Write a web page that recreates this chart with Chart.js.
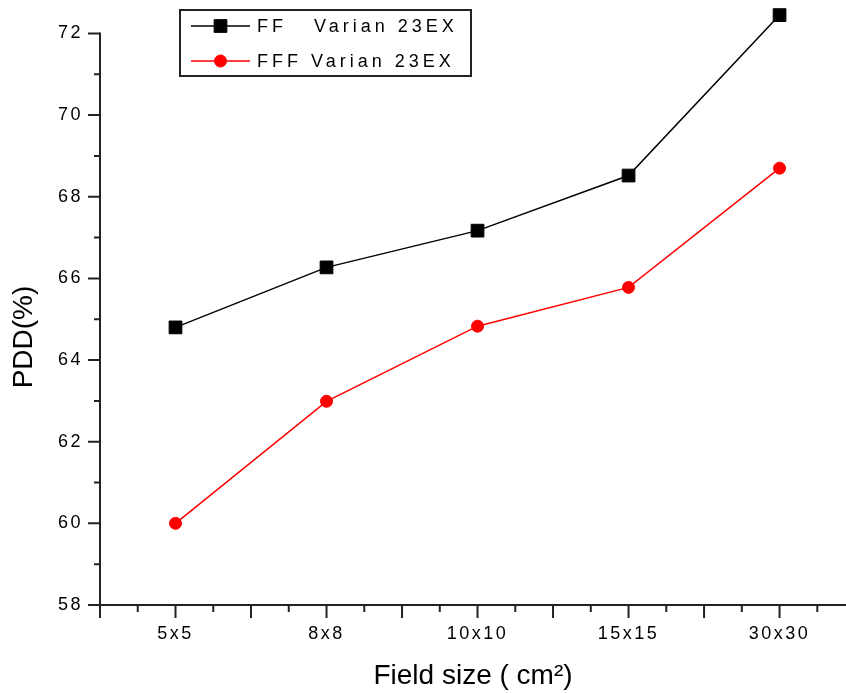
<!DOCTYPE html>
<html><head><meta charset="utf-8">
<script src="https://cdn.jsdelivr.net/npm/chart.js@4.4.0/dist/chart.umd.min.js"></script>
<style>html,body{margin:0;padding:0;background:#fff;overflow:hidden}#wrap{width:846px;height:693px;position:relative}</style>
</head><body><div id="wrap"><canvas id="c" width="846" height="693"></canvas></div>
<script>
const categories = ['5x5', '8x8', '10x10', '15x15', '30x30'];
const ffValues = [64.8, 66.27, 67.17, 68.52, 72.45];
const fffValues = [60.0, 62.99, 64.83, 65.78, 68.70];
const seriesLabels = ['FF   Varian 23EX', 'FFF Varian 23EX'];
const yTickLabels = [58, 60, 62, 64, 66, 68, 70, 72];
const xTitle = 'Field size ( cm²)';
const yTitle = 'PDD(%)';

const FONT = "'Liberation Sans', Arial, sans-serif";
const AXIS = '#222';
const TEXT = '#000';
const Y_AXIS_TOP = 72;

function toPoints(vals) { return vals.map((v, i) => ({ x: i + 1, y: v })); }

const axesPlugin = {
  id: 'axesPlugin',
  beforeDraw(chart) {
    const ys = chart.scales.y, xs = chart.scales.x;
    [xs, ys].forEach(s => {
      if (!s.__lbl) {
        const orig = s.drawLabels;
        s.drawLabels = function (ca) {
          const c = this.ctx; c.save(); c.letterSpacing = '2.5px'; orig.call(this, ca); c.restore();
        };
        s.__lbl = true;
      }
    });
    if (!ys.__ttl) {
      const ot = ys.drawTitle;
      ys.drawTitle = function () {
        const c = this.ctx; c.save(); c.translate(0, 34.5); ot.call(this); c.restore();
      };
      ys.__ttl = true;
    }
  },
  beforeDatasetsDraw(chart) {
    const { ctx, chartArea: a } = chart;
    const xs = chart.scales.x, ys = chart.scales.y;
    const top = ys.getPixelForValue(Y_AXIS_TOP);
    ctx.save();
    ctx.strokeStyle = AXIS;
    ctx.lineWidth = 2;
    ctx.lineCap = 'butt';
    ctx.beginPath();
    ctx.moveTo(a.left, top - 1); ctx.lineTo(a.left, a.bottom + 1);
    ctx.moveTo(a.left - 1, a.bottom); ctx.lineTo(a.right, a.bottom);
    ctx.stroke();
    ctx.beginPath();
    ys.ticks.forEach(t => {
      const p = ys.getPixelForValue(t.value);
      const len = (t.value % 2 === 0) ? 12 : 6;
      ctx.moveTo(a.left - len, p); ctx.lineTo(a.left, p);
    });
    xs.ticks.forEach(t => {
      const p = xs.getPixelForValue(t.value);
      const major = Math.abs(t.value * 2 - Math.round(t.value * 2)) < 1e-6;
      const len = major ? 13 : 7;
      ctx.moveTo(p, a.bottom); ctx.lineTo(p, a.bottom + len);
    });
    ctx.stroke();
    ctx.restore();
  },
  afterDraw(chart) {
    const { ctx } = chart;
    const ds = chart.data.datasets;
    ctx.save();
    ctx.strokeStyle = AXIS;
    ctx.lineWidth = 2;
    ctx.strokeRect(180, 10, 291, 66);
    const rows = [26, 61];
    ds.forEach((d, i) => {
      const y = rows[i];
      ctx.strokeStyle = d.borderColor;
      ctx.lineWidth = d.borderWidth;
      ctx.beginPath(); ctx.moveTo(191, y); ctx.lineTo(250, y); ctx.stroke();
      ctx.fillStyle = d.pointBackgroundColor;
      ctx.strokeStyle = d.pointBorderColor;
      ctx.lineWidth = d.pointBorderWidth;
      ctx.beginPath();
      if (d.pointStyle === 'rect') {
        const s = Math.SQRT1_2 * d.pointRadius;
        ctx.rect(220.5 - s, y - s, 2 * s, 2 * s);
      } else {
        ctx.arc(220.5, y, d.pointRadius, 0, Math.PI * 2);
      }
      ctx.fill(); ctx.stroke();
      ctx.fillStyle = TEXT;
      ctx.font = '18px ' + FONT;
      ctx.letterSpacing = '4px';
      ctx.textAlign = 'left';
      ctx.textBaseline = 'middle';
      ctx.fillText(d.label, 257, y + 1);
    });
    ctx.restore();
  }
};

new Chart(document.getElementById('c'), {
  type: 'line',
  data: {
    datasets: [
      {
        label: seriesLabels[0], data: toPoints(ffValues),
        borderColor: '#000', backgroundColor: '#000',
        pointBackgroundColor: '#000', pointBorderColor: '#000',
        pointStyle: 'rect', pointRadius: 9, pointBorderWidth: 1, pointHoverRadius: 9,
        borderWidth: 1.5, tension: 0, clip: false
      },
      {
        label: seriesLabels[1], data: toPoints(fffValues),
        borderColor: '#ff0000', backgroundColor: '#ff0000',
        pointBackgroundColor: '#ff0000', pointBorderColor: '#ff0000',
        pointStyle: 'circle', pointRadius: 6, pointBorderWidth: 1, pointHoverRadius: 6,
        borderWidth: 1.5, tension: 0, clip: false
      }
    ]
  },
  options: {
    responsive: false,
    animation: false,
    devicePixelRatio: 1,
    events: [],
    layout: { autoPadding: false, padding: { top: 0, left: 0, right: 0, bottom: 0 } },
    plugins: { legend: { display: false }, tooltip: { enabled: false } },
    scales: {
      x: {
        type: 'linear', min: 0.5, max: 5.44,
        grid: { display: false, drawTicks: false, tickLength: 0 },
        border: { display: false },
        afterBuildTicks(s) {
          const t = [];
          for (let v = 0.5; v <= 5.44; v += 0.25) t.push({ value: Math.round(v * 100) / 100 });
          s.ticks = t;
        },
        afterFit(s) { s.height = 88; s.paddingLeft = 0; s.paddingRight = 0; s.paddingTop = 0; s.paddingBottom = 0; },
        ticks: {
          autoSkip: false, maxRotation: 0, minRotation: 0, padding: 18,
          color: TEXT, font: { family: FONT, size: 18 },
          callback(v) { return (Number.isInteger(v) && v >= 1 && v <= categories.length) ? categories[v - 1] : ''; }
        },
        title: { display: true, text: xTitle, color: TEXT, font: { family: FONT, size: 28 }, padding: { top: 0, bottom: 0 } }
      },
      y: {
        type: 'linear', min: 58, max: 72.82,
        grid: { display: false, drawTicks: false, tickLength: 0 },
        border: { display: false },
        afterBuildTicks(s) {
          const t = [];
          for (let v = 58; v <= Y_AXIS_TOP; v += 1) t.push({ value: v });
          s.ticks = t;
        },
        afterFit(s) { s.width = 100; s.paddingLeft = 0; s.paddingRight = 0; s.paddingTop = 0; s.paddingBottom = 0; },
        ticks: {
          autoSkip: false, padding: 17,
          color: TEXT, font: { family: FONT, size: 18 },
          callback(v) { return yTickLabels.includes(v) ? String(v) : ''; }
        },
        title: { display: true, text: yTitle, color: TEXT, font: { family: FONT, size: 28 }, padding: { top: 7, bottom: 0 } }
      }
    }
  },
  plugins: [axesPlugin]
});
</script>
</body></html>
